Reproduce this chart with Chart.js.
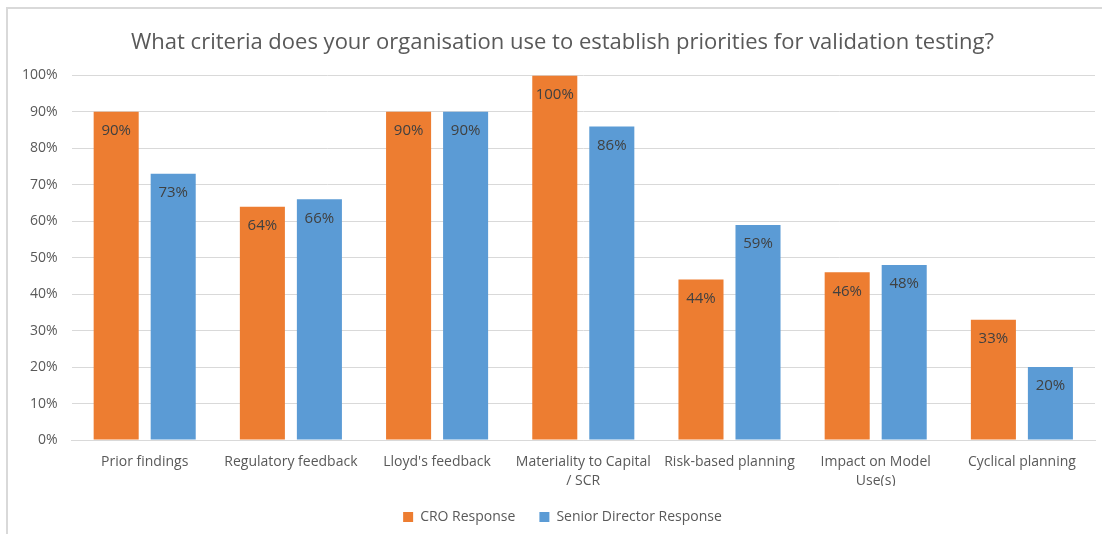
<!DOCTYPE html>
<html>
<head>
<meta charset="utf-8">
<title>Validation testing priorities</title>
<script src="https://cdn.jsdelivr.net/npm/chart.js"></script>
<style>
  html, body { margin: 0; padding: 0; background: #ffffff; }
  #wrap { position: relative; width: 1102px; height: 534px; overflow: hidden; }
  #frame {
    position: absolute; left: 6px; top: 7px; right: -4px; bottom: -4px;
    border-left: 2px solid #d9d9d9; border-top: 2px solid #d9d9d9;
  }
  #chart { position: absolute; left: 0; top: 0; }
</style>
</head>
<body>
<div id="wrap">
  <div id="frame"></div>
  <canvas id="chart" width="1102" height="534"></canvas>
</div>
<script>
// 集計データ
const categories = [
  'Prior findings',
  'Regulatory feedback',
  "Lloyd's feedback",
  ['Materiality to Capital', '/ SCR'],
  'Risk-based planning',
  ['Impact on Model', 'Use(s)'],
  'Cyclical planning',
];
const croResponse = [90, 64, 90, 100, 44, 46, 33];
const seniorDirectorResponse = [73, 66, 90, 86, 59, 48, 20];
const yTicks = [0, 10, 20, 30, 40, 50, 60, 70, 80, 90, 100];

const FONT = "'Open Sans', 'Noto Sans', sans-serif";
const TEXT_GRAY = '#595959';

// 棒の上端の内側に値ラベルを描く
const barValueLabels = {
  id: 'barValueLabels',
  afterDatasetsDraw(chart) {
    const ctx = chart.ctx;
    ctx.save();
    ctx.font = '15px ' + FONT;
    ctx.fillStyle = '#404040';
    ctx.textAlign = 'center';
    ctx.textBaseline = 'middle';
    chart.data.datasets.forEach((ds, i) => {
      const meta = chart.getDatasetMeta(i);
      meta.data.forEach((bar, j) => {
        ctx.fillText(ds.data[j] + '%', bar.x, bar.y + 19);
      });
    });
    ctx.restore();
  },
};

// タイトルと凡例をプロット領域の中央寄りに少しずらす
const centerShift = {
  id: 'centerShift',
  afterLayout(chart) {
    const dx = 11;
    [chart.titleBlock, chart.legend].forEach(box => {
      if (!box) return;
      box.left += dx;
      box.right += dx;
    });
  },
};

new Chart(document.getElementById('chart'), {
  type: 'bar',
  data: {
    labels: categories,
    datasets: [
      {
        label: 'CRO Response',
        data: croResponse,
        backgroundColor: '#ed7d31',
        categoryPercentage: 0.78,
        barPercentage: 0.79,
      },
      {
        label: 'Senior Director Response',
        data: seniorDirectorResponse,
        backgroundColor: '#5b9bd5',
        categoryPercentage: 0.78,
        barPercentage: 0.79,
      },
    ],
  },
  options: {
    responsive: false,
    animation: false,
    layout: {
      padding: { left: 8, right: 7, top: 14, bottom: 0 },
    },
    plugins: {
      title: {
        display: true,
        text: 'What criteria does your organisation use to establish priorities for validation testing?',
        color: TEXT_GRAY,
        font: { family: FONT, size: 22, weight: 'normal' },
        padding: { top: 16, bottom: 19 },
      },
      legend: {
        position: 'bottom',
        labels: {
          color: TEXT_GRAY,
          font: { family: FONT, size: 14 },
          boxWidth: 10,
          boxHeight: 10,
          padding: 24,
        },
      },
      tooltip: { enabled: false },
    },
    scales: {
      x: {
        grid: { display: false, drawTicks: false },
        border: { color: '#d9d9d9', width: 1 },
        afterFit(scale) {
          scale.height = 46;
        },
        ticks: {
          color: TEXT_GRAY,
          font: { family: FONT, size: 14, lineHeight: 1.4 },
          padding: 12,
          maxRotation: 0,
          autoSkip: false,
        },
      },
      y: {
        min: 0,
        max: 100,
        afterBuildTicks(scale) {
          scale.ticks = yTicks.map(v => ({ value: v }));
        },
        grid: { color: '#d9d9d9', drawTicks: false },
        border: { display: false },
        ticks: {
          color: TEXT_GRAY,
          font: { family: FONT, size: 14 },
          padding: 14,
          callback: value => value + '%',
        },
      },
    },
  },
  plugins: [barValueLabels, centerShift],
});
</script>
</body>
</html>
